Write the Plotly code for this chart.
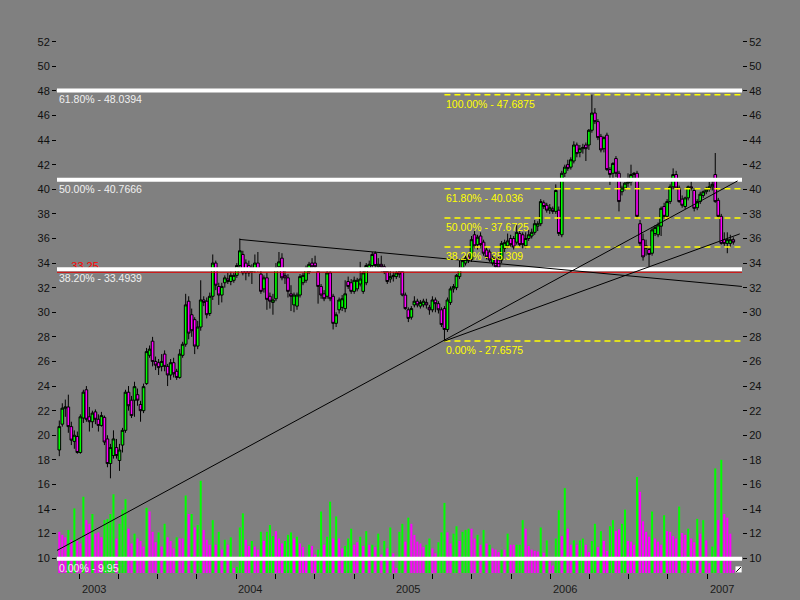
import pandas as pd
import plotly.graph_objects as go

# ---- weekly price bars -------------------------------------------------
week_start = "2002-11-15"

open_ = [
    18.8, 20.9, 22.2, 22.3, 20.7, 19.5, 19.9, 18.6, 21.4, 23.7,
    21.5, 21.1, 21.9, 21.3, 20.8, 21.45, 19.7, 17.7, 18.35, 19.0,
    17.95, 19.2, 20.4, 23.5, 22.85, 22.85, 23.3, 22.5, 22.0, 24.2,
    26.5, 27.65, 26.0, 25.9, 25.6, 26.6, 25.6, 24.9, 25.9, 25.2,
    24.7, 26.5, 27.4, 30.9, 29.8, 29.4, 27.25, 28.8, 31.0, 30.9,
    29.9, 31.3, 34.0, 32.1, 31.4, 32.4, 32.7, 32.5, 32.6, 33.0,
    33.8, 34.7, 34.0, 33.8, 33.3, 33.4, 34.0, 33.1, 31.9, 32.8,
    31.3, 30.8, 31.1, 33.7, 34.4, 33.0, 32.8, 31.5, 30.6, 30.5,
    31.4, 32.4, 32.6, 33.3, 34.0, 34.0, 33.3, 32.1, 31.5, 31.3,
    33.2, 31.3, 29.1, 30.2, 30.4, 30.3, 32.5, 32.4, 31.7, 31.9,
    32.3, 31.7, 32.4, 33.6, 33.8, 34.8, 33.7, 33.9, 33.7, 33.3,
    32.7, 32.9, 32.9, 33.3, 33.3, 31.4, 30.2, 29.6, 30.6, 30.9,
    30.5, 30.6, 30.8, 30.4, 30.2, 31.0, 30.7, 30.2, 30.3, 28.6,
    30.8, 31.9, 32.0, 32.9, 33.6, 34.0, 34.5, 34.3, 36.3, 35.5,
    36.2, 35.7, 35.06, 34.9, 34.0, 34.4, 34.25, 34.25, 35.2, 35.4,
    36.0, 36.0, 35.7, 36.4, 36.3, 35.4, 36.0, 36.2, 36.5, 37.0,
    37.2, 38.9, 38.7, 38.3, 38.4, 38.2, 38.3, 36.3, 41.3, 42.0,
    41.8, 42.3, 43.6, 43.0, 43.3, 43.6, 43.6, 44.8, 46.2, 45.5,
    44.3, 43.3, 44.4, 41.6, 41.3, 42.5, 41.3, 39.8, 40.1, 40.5,
    40.6, 41.2, 41.3, 37.2, 35.9, 35.4, 35.1, 34.8, 36.4, 36.3,
    37.0, 38.6, 37.8, 39.0, 40.2, 41.2, 40.1, 39.2, 38.6, 39.3,
    40.2, 39.9, 38.5, 39.0, 39.5, 39.8, 40.0, 40.2, 41.2, 39.1,
    37.8, 35.9, 35.6, 35.6, 35.9,
]
high = [
    21.2, 22.6, 22.9, 23.3, 21.1, 20.4, 20.3, 21.7, 23.7, 24.0,
    22.3, 22.0, 22.1, 21.7, 21.9, 21.6, 20.0, 19.3, 20.4, 19.7,
    19.3, 20.6, 23.7, 24.0, 23.2, 24.35, 23.8, 22.8, 24.2, 27.1,
    27.3, 28.0, 26.4, 26.2, 26.6, 26.9, 25.8, 26.2, 26.3, 25.4,
    27.0, 27.6, 31.5, 31.3, 30.3, 29.6, 29.3, 32.6, 31.3, 31.2,
    31.6, 34.7, 34.2, 32.4, 32.4, 33.0, 33.2, 33.3, 33.2, 34.0,
    36.0, 35.0, 34.3, 34.2, 33.9, 34.7, 34.9, 33.4, 33.0, 33.2,
    31.6, 31.5, 34.0, 34.9, 34.8, 33.6, 33.1, 32.2, 31.6, 31.6,
    33.1, 33.2, 33.8, 34.1, 34.4, 34.6, 33.5, 32.3, 31.8, 33.4,
    33.4, 31.5, 30.0, 31.2, 31.4, 32.6, 32.9, 32.7, 32.9, 32.8,
    34.1, 33.4, 34.0, 34.2, 34.9, 34.95, 34.4, 34.6, 33.9, 33.5,
    33.4, 33.3, 33.5, 33.5, 33.5, 31.6, 30.4, 30.5, 31.3, 31.1,
    31.0, 31.1, 31.1, 30.6, 31.3, 31.2, 30.9, 30.4, 30.5, 31.2,
    32.1, 32.3, 33.1, 34.2, 34.4, 34.6, 34.7, 36.2, 36.6, 36.3,
    36.5, 35.9, 35.3, 35.1, 34.6, 34.6, 34.5, 35.8, 35.9, 36.4,
    36.3, 36.2, 37.1, 36.6, 36.5, 36.5, 36.7, 36.8, 37.5, 37.4,
    39.2, 39.1, 38.9, 38.8, 38.6, 40.4, 38.6, 41.5, 42.0, 42.4,
    42.6, 43.9, 43.8, 43.6, 43.7, 43.8, 44.9, 47.6875, 46.6, 45.7,
    44.5, 44.3, 44.6, 41.8, 42.2, 42.7, 41.5, 40.3, 40.6, 41.3,
    42.0, 41.4, 41.5, 37.5, 36.4, 35.9, 35.3, 36.9, 37.1, 37.3,
    38.6, 38.9, 39.2, 40.4, 41.7, 41.5, 40.3, 39.5, 39.4, 40.3,
    40.9, 40.1, 39.2, 39.8, 39.9, 40.2, 40.6, 40.8, 42.95, 39.3,
    38.0, 36.5, 36.5, 36.3, 36.1,
]
low = [
    18.3, 20.7, 21.5, 20.2, 19.2, 18.9, 18.5, 18.5, 21.0, 21.1,
    20.3, 20.6, 20.9, 20.3, 20.7, 19.2, 17.4, 16.5, 18.1, 18.1,
    17.1, 18.6, 20.2, 22.0, 21.4, 21.5, 22.4, 21.1, 21.8, 24.1,
    26.3, 25.6, 25.3, 24.9, 25.2, 25.2, 24.0, 24.5, 24.7, 24.5,
    24.6, 26.3, 27.2, 27.8, 28.0, 26.6, 27.0, 28.5, 30.5, 29.5,
    29.7, 31.0, 31.8, 30.6, 30.8, 32.0, 32.3, 32.2, 32.4, 32.8,
    33.6, 33.0, 32.6, 32.9, 32.3, 33.2, 33.3, 31.5, 31.6, 30.2,
    30.3, 29.8, 30.9, 33.5, 32.6, 32.3, 31.2, 30.1, 30.0, 30.2,
    31.2, 32.2, 32.4, 33.1, 33.4, 33.5, 30.7, 31.1, 30.9, 31.1,
    30.9, 28.6, 28.8, 29.9, 30.1, 30.0, 31.9, 31.5, 31.5, 31.7,
    32.1, 31.5, 32.2, 33.4, 33.6, 33.6, 33.4, 33.3, 33.1, 32.3,
    32.4, 32.5, 32.7, 32.8, 31.3, 30.2, 29.2, 29.4, 30.4, 30.4,
    30.3, 30.4, 30.3, 29.8, 30.0, 30.0, 29.9, 28.8, 27.6575, 28.4,
    30.6, 31.6, 31.8, 32.7, 33.4, 33.8, 34.0, 34.1, 35.2, 35.1,
    35.2, 34.6, 34.3, 34.1, 33.8, 33.4, 33.4, 34.0, 34.9, 35.2,
    35.3, 35.1, 35.5, 35.3, 35.2, 35.2, 35.8, 36.0, 36.3, 36.6,
    37.0, 38.4, 38.1, 38.0, 38.0, 38.0, 36.2, 36.1, 41.0, 41.5,
    41.6, 42.1, 42.6, 42.6, 42.9, 42.3, 43.2, 44.6, 45.3, 44.0,
    43.0, 43.0, 41.5, 40.35, 40.9, 41.0, 38.2, 39.5, 39.9, 40.2,
    40.3, 40.8, 37.6, 35.4, 34.2, 34.6, 33.7, 34.6, 36.2, 36.1,
    36.2, 37.6, 37.6, 38.8, 40.0, 40.0, 38.9, 38.5, 38.4, 39.1,
    39.9, 38.2, 38.3, 38.8, 39.3, 39.6, 39.8, 39.9, 38.9, 37.6,
    35.5, 35.4, 34.8, 35.3, 35.5,
]
close = [
    20.7, 22.2, 22.3, 20.7, 19.6, 20.0, 18.6, 21.5, 23.5, 21.3,
    21.1, 21.8, 21.3, 20.8, 21.6, 19.45, 17.7, 19.0, 19.7, 18.35,
    18.8, 20.4, 23.5, 22.4, 21.6, 23.95, 22.85, 22.0, 23.95, 26.8,
    27.0, 26.0, 25.7, 25.5, 26.0, 25.6, 24.9, 25.9, 25.0, 24.7,
    26.6, 27.4, 30.6, 28.3, 28.5, 27.25, 28.8, 31.0, 30.8, 29.8,
    31.3, 34.0, 32.2, 31.4, 32.1, 32.8, 32.5, 33.0, 33.0, 33.8,
    35.0, 33.2, 33.2, 33.2, 33.6, 34.0, 33.5, 31.7, 32.8, 31.05,
    30.9, 31.0, 33.6, 34.1, 32.8, 32.8, 31.7, 31.3, 31.4, 31.4,
    32.9, 33.0, 33.6, 33.9, 33.7, 33.7, 32.1, 31.4, 31.1, 33.2,
    31.1, 29.1, 29.8, 31.0, 31.1, 31.5, 32.1, 31.7, 32.6, 32.6,
    32.7, 33.2, 33.8, 33.9, 34.7, 33.8, 33.9, 33.7, 33.3, 32.5,
    32.9, 33.0, 33.2, 33.1, 31.4, 30.3, 29.5, 30.3, 30.9, 30.6,
    30.8, 30.9, 30.6, 30.2, 31.0, 30.7, 30.2, 29.0, 28.6, 31.0,
    31.9, 32.1, 33.0, 33.6, 34.2, 34.4, 34.2, 35.9, 35.4, 36.1,
    35.5, 34.8, 34.5, 34.25, 34.4, 33.7, 33.6, 35.6, 35.66, 35.8,
    35.5, 35.3, 36.5, 35.5, 35.5, 36.0, 36.3, 36.5, 37.2, 37.2,
    39.0, 38.6, 38.3, 38.5, 38.2, 39.9, 36.4, 41.3, 41.8, 41.7,
    42.4, 43.6, 42.9, 43.3, 43.4, 43.3, 44.8, 46.2, 45.5, 44.2,
    43.2, 44.2, 41.6, 41.2, 42.1, 41.3, 39.0, 40.1, 40.5, 40.6,
    41.2, 41.3, 37.8, 35.6, 34.5, 35.2, 34.7, 36.7, 36.9, 37.1,
    38.45, 37.8, 39.0, 40.2, 41.2, 40.1, 39.0, 38.7, 39.3, 40.2,
    40.1, 38.45, 39.0, 39.6, 39.8, 40.0, 40.2, 40.4, 39.0, 37.8,
    35.6, 35.6, 35.9, 35.9, 35.7,
]

# weekly volume (millions of shares) and whether it was an up-volume week
volume = [
    3.35, 3.1, 2.9, 3.5, 2.7, 5.25, 2.6, 2.4, 6.2, 4.3,
    4.0, 4.8, 3.2, 3.3, 2.9, 4.3, 4.4, 4.8, 6.4, 2.8,
    4.0, 5.15, 6.0, 3.6, 2.4, 3.2, 2.8, 2.6, 2.15, 5.3,
    5.0, 3.35, 2.5, 3.3, 2.15, 4.0, 2.9, 2.6, 2.0, 2.9,
    2.8, 2.8, 6.3, 4.8, 4.8, 3.7, 3.9, 7.5, 3.5, 2.7,
    2.3, 4.3, 2.3, 3.35, 1.9, 2.7, 2.3, 2.9, 0.4, 0.5,
    3.7, 4.85, 2.7, 2.2, 2.6, 2.15, 1.9, 3.35, 2.6, 3.35, 3.9,
    3.0,
    3.4, 2.8, 2.4, 2.6, 3.1, 3.3, 2.8, 2.95, 2.4, 2.1,
    1.25, 2.3, 2.2, 1.5, 1.9, 5.0, 2.3, 2.95, 5.8, 2.8,
    4.6, 2.8, 2.0, 2.2, 2.8, 3.6, 2.3, 2.5, 2.95, 2.2,
    3.4, 2.3, 2.3, 2.1, 3.2, 1.5, 2.6, 2.0, 3.7, 1.6,
    0.4, 3.35, 4.0, 2.55, 4.5, 4.0, 3.1, 2.55, 2.4, 2.1,
    2.3, 2.8, 2.0, 1.6, 2.5, 3.3, 5.7, 3.3, 2.4, 3.2,
    3.8, 2.6, 3.35, 3.5, 3.6, 3.6, 2.8, 3.1, 2.3, 3.5,
    2.4, 2.3, 2.0, 1.9, 1.7, 1.9, 1.9, 3.2, 2.3, 2.3,
    2.3, 2.3, 4.3, 3.6, 2.2, 1.9, 1.8, 1.75, 3.7,
    1.65, 2.65, 1.0, 0.6, 2.8, 5.1, 3.0, 6.9, 3.6, 2.3,
    2.65, 2.3, 2.65, 2.8, 2.3, 1.7, 2.6, 4.0, 2.1, 3.4,
    2.6, 1.8, 3.8, 4.3, 3.4, 3.55, 4.0, 5.15, 2.6, 2.55,
    2.3, 7.8, 6.6, 4.2, 3.35, 2.95, 5.0, 2.8, 2.55, 2.3,
    4.7, 3.4, 3.35, 3.0, 2.8, 5.4, 3.25, 3.1, 3.6, 2.8,
    2.5, 4.4, 3.2, 4.3, 2.65, 0.8, 2.15, 8.5, 4.3, 9.2,
    4.8, 4.5, 3.2, 0.25,
]
volume_up = [
    0, 0, 0, 1, 0, 1, 0, 0, 1, 0,
    0, 1, 0, 0, 0, 1, 1, 1, 1, 0,
    1, 1, 1, 0, 0, 1, 0, 0, 0, 1,
    0, 0, 0, 1, 0, 1, 0, 0, 0, 1,
    0, 0, 1, 0, 1, 0, 1, 1, 0, 0,
    0, 1, 0, 1, 0, 1, 0, 1, 0, 1,
    1, 1, 0, 0, 1, 0, 0, 1, 0, 1, 1,
    1,
    0, 0, 0, 1, 1, 1, 0, 1, 0, 0,
    0, 1, 0, 0, 1, 1, 0, 1, 1, 0,
    1, 0, 0, 1, 1, 1, 0, 0, 1, 0,
    1, 0, 1, 0, 1, 0, 1, 0, 1, 0,
    0, 1, 1, 0, 1, 0, 0, 0, 0, 0,
    1, 1, 0, 0, 1, 1, 1, 0, 0, 1,
    1, 0, 1, 1, 1, 0, 0, 1, 0, 1,
    0, 1, 0, 0, 0, 1, 0, 1, 0, 0,
    1, 1, 1, 0, 0, 0, 0, 0, 1,
    0, 1, 0, 0, 1, 1, 0, 1, 0, 0,
    1, 0, 1, 1, 0, 0, 1, 1, 0, 1,
    0, 0, 1, 1, 0, 0, 1, 1, 0, 0,
    0, 1, 0, 0, 0, 0, 1, 0, 0, 0,
    1, 0, 0, 0, 0, 1, 0, 0, 1, 0,
    0, 1, 0, 1, 0, 0, 1, 1, 0, 1,
    0, 0, 0, 0,
]

# ---- drawing tools -----------------------------------------------------
# long-term Fibonacci levels (full width, white)
long_fib_pct = ["61.80%", "50.00%", "38.20%", "0.00%"]
long_fib_val = [48.0394, 40.7666, 33.4939, 9.95]

# retracement of the 2005 low -> 2006 high swing (yellow, dashed)
swing_low, swing_high = 27.6575, 47.6875
swing_ratios = [1.0, 0.618, 0.5, 0.382, 0.0]

# horizontal marker line
marker_level = 33.25

# trend lines: (start date, start price, end date, end price)
trend_lines = [
    ("2002-11-09", 10.62, "2007-03-12", 40.68),
    ("2005-04-29", 27.6575, "2007-03-17", 36.37),
    ("2004-01-09", 35.92, "2007-03-22", 32.10),
]

price_ticks = list(range(10, 53, 2))
year_labels = ["2003", "2004", "2005", "2006", "2007"]

# ---- figure ------------------------------------------------------------
dates = pd.date_range(week_start, periods=len(close), freq="7D")
x_start = dates[0] - pd.Timedelta(days=5.35)
x_end = dates[-1] + pd.Timedelta(days=20.2)
y_lo, y_hi = 8.8, 55.39

FONT = "Liberation Sans, Arial, sans-serif"
GREEN, MAGENTA = "#00ff00", "#ff00ff"

fig = go.Figure()

fig.add_trace(go.Bar(
    x=dates, y=volume, yaxis="y3",
    marker=dict(color=[GREEN if u else MAGENTA for u in volume_up], line=dict(width=0)),
    hoverinfo="skip", showlegend=False,
))

fig.add_trace(go.Candlestick(
    x=dates, open=open_, high=high, low=low, close=close,
    increasing=dict(fillcolor=GREEN, line=dict(color="black", width=1)),
    decreasing=dict(fillcolor=MAGENTA, line=dict(color="black", width=1)),
    whiskerwidth=0, showlegend=False, hoverinfo="skip",
))

# red marker label sits under the white level line
fig.add_trace(go.Scatter(
    x=[dates[4]], y=[marker_level], mode="text", text=[f"{marker_level:.2f}"],
    textposition="top right", textfont=dict(family=FONT, size=11, color="#ff0000"),
    hoverinfo="skip", showlegend=False,
))

# keeps the right-hand price axis alive
fig.add_trace(go.Scatter(
    x=[dates[0]], y=[y_lo], yaxis="y2", mode="markers",
    marker=dict(opacity=0), hoverinfo="skip", showlegend=False,
))

shapes = []
annotations = []

for pct, val in zip(long_fib_pct, long_fib_val):
    shapes.append(dict(type="line", xref="paper", x0=0, x1=1, yref="y", y0=val, y1=val,
                       line=dict(color="white", width=4), layer="above"))
    annotations.append(dict(xref="paper", x=0, yref="y", y=val, xanchor="left", yanchor="top",
                            yshift=-1, text=f"{pct} - {val:g}", showarrow=False,
                            font=dict(family=FONT, size=10.5, color="#f0f0f0")))

shapes.append(dict(type="line", xref="paper", x0=0, x1=1, yref="y", y0=marker_level, y1=marker_level,
                   line=dict(color="#e00000", width=1), layer="above"))

# the retracement is anchored on the swing-low week
fib_start = dates[low.index(swing_low)]
for r in swing_ratios:
    lvl = swing_low + r * (swing_high - swing_low)
    shapes.append(dict(type="line", xref="x", x0=fib_start, x1=x_end, yref="y", y0=lvl, y1=lvl,
                       line=dict(color="#ffff00", width=1.5, dash="6px,4px"), layer="above"))
    annotations.append(dict(xref="x", x=fib_start, yref="y", y=lvl, xanchor="left", yanchor="top",
                            yshift=-1, text=f"{r * 100:.2f}% - {round(lvl, 4):g}", showarrow=False,
                            font=dict(family=FONT, size=10.5, color="#ffff00")))

for d0, p0, d1, p1 in trend_lines:
    shapes.append(dict(type="line", xref="x", yref="y", x0=d0, y0=p0, x1=d1, y1=p1,
                       line=dict(color="black", width=1), layer="above"))

# little grip box in the corner
shapes.append(dict(type="rect", xref="paper", yref="paper", x0=0.9905, x1=0.9995, y0=0.001, y1=0.0115,
                   fillcolor="white", line=dict(color="white", width=0), layer="above"))
shapes.append(dict(type="line", xref="paper", yref="paper", x0=0.9915, x1=0.9985, y0=0.002, y1=0.0105,
                   line=dict(color="black", width=1), layer="above"))

for yl in year_labels:
    annotations.append(dict(xref="x", x=f"{yl}-01-01", yref="paper", y=0, xanchor="left", yanchor="top",
                            yshift=-8, text=yl, showarrow=False,
                            font=dict(family=FONT, size=11, color="#1a1a1a")))

quarters = pd.date_range("2003-01-01", "2007-01-01", freq="QS")

axis_font = dict(family=FONT, size=11, color="#111111")
price_axis = dict(range=[y_lo, y_hi], tickvals=price_ticks, ticks="outside", ticklen=4,
                  tickcolor="black", tickwidth=1, tickfont=axis_font, showgrid=False,
                  zeroline=False, showline=False, fixedrange=True)

fig.update_layout(
    width=800, height=600,
    margin=dict(l=57, r=58, t=0, b=27),
    paper_bgcolor="#808080", plot_bgcolor="#808080",
    showlegend=False, bargap=0.33, boxgap=0.12, boxgroupgap=0,
    xaxis=dict(type="date", range=[x_start, x_end], tickvals=list(quarters),
               ticktext=[""] * len(quarters), ticks="outside", ticklen=5, tickcolor="black",
               tickwidth=1, showgrid=False, zeroline=False, showline=False,
               rangeslider=dict(visible=False), fixedrange=True),
    yaxis=dict(side="left", **price_axis),
    yaxis2=dict(side="right", overlaying="y", **price_axis),
    yaxis3=dict(overlaying="y", range=[0, y_hi - y_lo], visible=False, fixedrange=True),
    shapes=shapes, annotations=annotations,
)

fig.write_html("out.html")
